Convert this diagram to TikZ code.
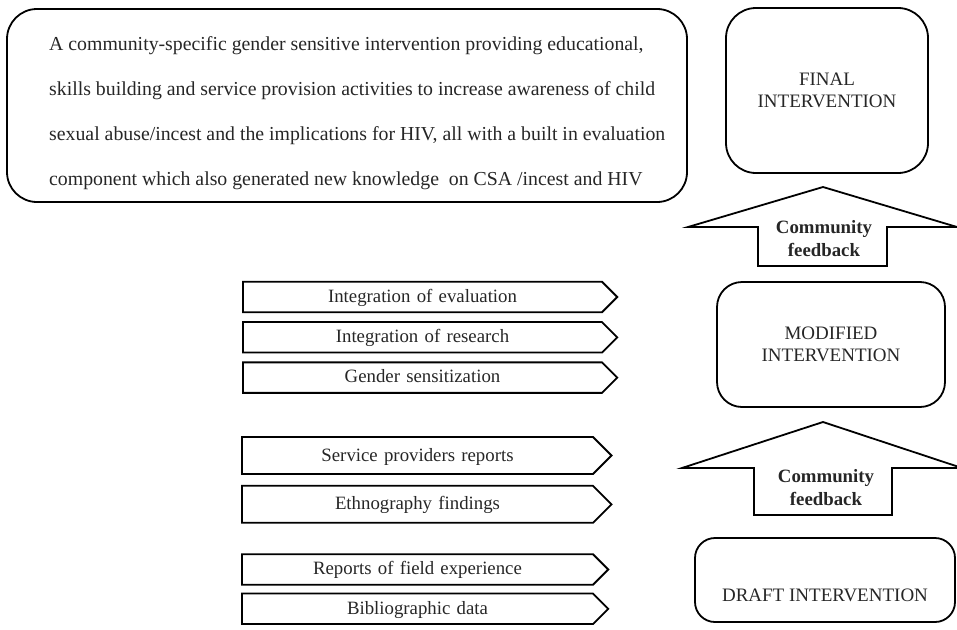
\documentclass[tikz,border=0pt]{standalone}
\usepackage{fontspec}
\setmainfont{Liberation Serif}
\usetikzlibrary{positioning, shapes.symbols}
\tikzstyle{fGoal} = [rectangle, rounded corners=30pt, draw=black, line width=1.8pt, minimum width=680pt, minimum height=193pt]
\tikzstyle{fStage} = [rectangle, rounded corners=25pt, draw=black, line width=1.8pt, align=center, text=black!85, font=\fontsize{19}{22.5}\selectfont]
\tikzstyle{fBar} = [signal, signal to=east, signal pointer angle=90, draw=black, line width=1.8pt, inner sep=0pt, text width=359pt, align=center, text height=20.5pt, text depth=10pt, text=black!85, font=\fontsize{18.8}{22}\selectfont]
\tikzstyle{fBarTall} = [fBar, text width=351pt, text height=24pt, text depth=13pt]
\tikzstyle{fBarLow} = [fBar, text width=351pt]
\tikzstyle{fFeedback} = [align=center, inner sep=0pt, text=black!85, font=\bfseries\fontsize{18.8}{23}\selectfont]
\tikzstyle{fBlock} = [line width=1.8pt, line join=miter]

\begin{document}
\begin{tikzpicture}[x=1pt, y=-1pt]
    \useasboundingbox (0,0) rectangle (957,629);

    % goal of the whole process
    \node (goal) [fGoal] at (347,105.5) {};
    \node (goaltext) [anchor=north west, align=left, inner sep=0pt, text=black!85, font=\fontsize{19.8}{45}\selectfont] at (49,36) {A community-specific gender sensitive intervention providing educational,\\skills building and service provision activities to increase awareness of child\\sexual abuse/incest and the implications for HIV, all with a built in evaluation\\component which also generated new knowledge~ on CSA /incest and HIV};

    % intervention stages
    \node (final) [fStage, rounded corners=30pt, minimum width=202pt, minimum height=165pt] at (827,90.5) {FINAL\\INTERVENTION};
    \node (modified) [fStage, minimum width=228pt, minimum height=125pt] at (831,344.5) {MODIFIED\\INTERVENTION};
    \node (draft) [fStage, rounded corners=20pt, minimum width=260pt, minimum height=84pt, label={[text=black!85, font=\fontsize{19}{22.5}\selectfont, yshift=-15pt]center:DRAFT INTERVENTION}] at (825,580) {};

    % inputs
    \node (evaluation) [fBar] at (422.5,297) {Integration of evaluation};
    \node (research) [fBar, below=8pt of evaluation] {Integration of research};
    \node (gender) [fBar, below=8pt of research] {Gender sensitization};
    \node (providers) [fBarTall] at (417.5,455.5) {Service providers reports};
    \node (ethnography) [fBarTall, below=10pt of providers] {Ethnography findings};
    \node (field) [fBarLow] at (417.5,569.5) {Reports of field experience};
    \node (biblio) [fBarLow, below=7pt of field] {Bibliographic data};

    % community feedback
    \node (fbupper) [fFeedback] at (824,238.5) {Community\\feedback};
    \node (fblower) [fFeedback] at (826,487.5) {Community\\feedback};
    \draw [fBlock] (758,266) -- (758,227) -- (688,227) -- (823,187) -- (957,227) -- (887,227) -- (887,266) -- cycle;
    \draw [fBlock] (754,515) -- (754,468) -- (682,468) -- (823,422) -- (962,468) -- (892,468) -- (892,515) -- cycle;
\end{tikzpicture}
\end{document}
